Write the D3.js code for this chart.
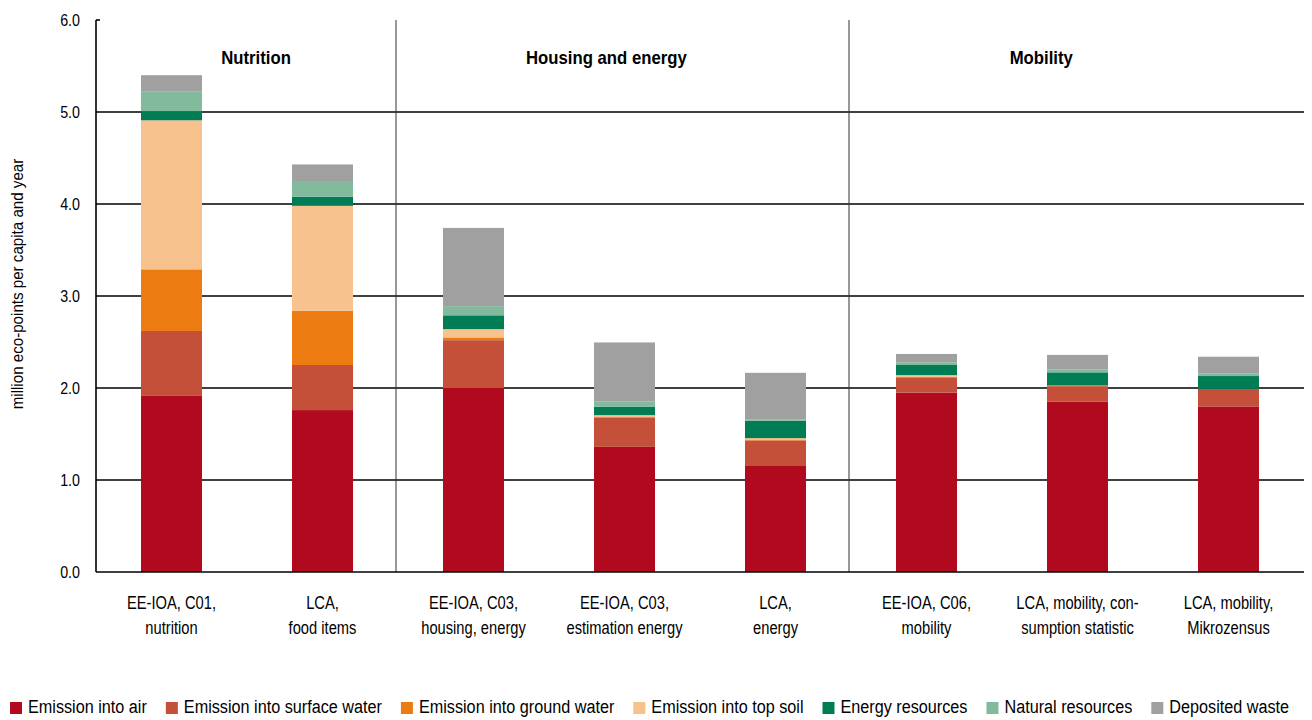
<!DOCTYPE html>
<html>
<head>
<meta charset="utf-8">
<script src="https://cdn.jsdelivr.net/npm/d3@7"></script>
<style>
  body { margin: 0; background: #fff; }
  svg text { font-family: "Liberation Sans", Arial, sans-serif; fill: #000; }
</style>
</head>
<body>
<div id="chart"></div>
<script>
const width = 1312;
const height = 720;

// categories (two label lines each)
const categories = [
  ["EE-IOA, C01,", "nutrition"],
  ["LCA,", "food items"],
  ["EE-IOA, C03,", "housing, energy"],
  ["EE-IOA, C03,", "estimation energy"],
  ["LCA,", "energy"],
  ["EE-IOA, C06,", "mobility"],
  ["LCA, mobility, con-", "sumption statistic"],
  ["LCA, mobility,", "Mikrozensus"]
];

const seriesNames = ["Emission into air", "Emission into surface water", "Emission into ground water",
  "Emission into top soil", "Energy resources", "Natural resources", "Deposited waste"];
const colors = ["#b1091e", "#c4503a", "#ec7c12", "#f7c28e", "#007d55", "#82ba9e", "#a0a0a0"];

// million eco-points per capita and year
const air          = [1.92, 1.76, 2.00, 1.36, 1.16, 1.95, 1.85, 1.80];
const surfaceWater = [0.70, 0.49, 0.52, 0.32, 0.27, 0.16, 0.17, 0.19];
const groundWater  = [0.67, 0.59, 0.03, 0.005, 0.005, 0.01, 0.01, 0.0];
const topSoil      = [1.62, 1.14, 0.09, 0.02, 0.02, 0.02, 0.0, 0.0];
const energy       = [0.10, 0.10, 0.15, 0.09, 0.19, 0.11, 0.14, 0.14];
const natural      = [0.21, 0.17, 0.10, 0.06, 0.01, 0.03, 0.03, 0.03];
const waste        = [0.18, 0.18, 0.85, 0.64, 0.51, 0.09, 0.16, 0.18];

const yTicks = [0, 1, 2, 3, 4, 5, 6];

// group headings and separators (positions in category-index units)
const groups = [
  {name: "Nutrition", pos: 1.06},
  {name: "Housing and energy", pos: 3.38},
  {name: "Mobility", pos: 6.26}
];
const separators = [2, 5];

const allSeries = [air, surfaceWater, groundWater, topSoil, energy, natural, waste];
const table = categories.map((c, i) => {
  const row = {idx: i};
  seriesNames.forEach((s, j) => row[s] = allSeries[j][i]);
  return row;
});

const margin = {top: 20, right: 8, bottom: 148, left: 96};

const svg = d3.select("#chart").append("svg")
  .attr("width", width).attr("height", height);

// squeeze Arial-metric text to look like Arial Narrow
function narrow(sel, k) {
  sel.each(function() {
    const len = this.getComputedTextLength();
    d3.select(this).attr("textLength", len * k).attr("lengthAdjust", "spacingAndGlyphs");
  });
}

const x = d3.scaleBand()
  .domain(d3.range(categories.length))
  .range([margin.left, width - margin.right])
  .paddingInner(0.596)
  .paddingOuter(0.298);

const y = d3.scaleLinear()
  .domain([0, 6])
  .range([height - margin.bottom, margin.top]);

const step = x.step();
const x0 = margin.left;

// gridlines
svg.append("g")
  .selectAll("line")
  .data(yTicks.filter(d => d > 0 && d < 6))
  .join("line")
  .attr("x1", margin.left).attr("x2", width - margin.right)
  .attr("y1", d => y(d)).attr("y2", d => y(d))
  .attr("stroke", "#000").attr("stroke-width", 1.6);

// group separators
svg.append("g")
  .selectAll("line")
  .data(separators)
  .join("line")
  .attr("x1", d => x0 + d * step - 2).attr("x2", d => x0 + d * step - 2)
  .attr("y1", y(6)).attr("y2", y(0))
  .attr("stroke", "#333").attr("stroke-width", 1);

// bars
const stack = d3.stack().keys(seriesNames)(table);
svg.append("g")
  .selectAll("g")
  .data(stack)
  .join("g")
  .attr("fill", (d, i) => colors[i])
  .selectAll("rect")
  .data(d => d)
  .join("rect")
  .attr("x", d => x(d.data.idx))
  .attr("width", x.bandwidth())
  .attr("y", d => y(d[1]))
  .attr("height", d => y(d[0]) - y(d[1]));

// axes
svg.append("line")
  .attr("x1", margin.left).attr("x2", margin.left)
  .attr("y1", y(6)).attr("y2", y(0))
  .attr("stroke", "#000").attr("stroke-width", 1.6);
svg.append("line")
  .attr("x1", margin.left).attr("x2", width - margin.right)
  .attr("y1", y(0)).attr("y2", y(0))
  .attr("stroke", "#000").attr("stroke-width", 1.6);
svg.append("line")
  .attr("x1", margin.left).attr("x2", margin.left + 4)
  .attr("y1", y(6)).attr("y2", y(6))
  .attr("stroke", "#000").attr("stroke-width", 1.6);

// y tick labels
svg.append("g")
  .selectAll("text")
  .data(yTicks)
  .join("text")
  .attr("x", 80)
  .attr("y", d => y(d))
  .attr("dy", "0.35em")
  .attr("text-anchor", "end")
  .attr("font-size", 17)
  .text(d => d3.format(".1f")(d))
  .call(narrow, 0.84);

// y title
svg.append("text")
  .attr("transform", `translate(23,${(y(0) + y(6)) / 2 - 12}) rotate(-90)`)
  .attr("text-anchor", "middle")
  .attr("font-size", 17)
  .text("million eco-points per capita and year")
  .call(narrow, 0.89);

// x labels
const xl = svg.append("g")
  .selectAll("text")
  .data(categories)
  .join("text")
  .attr("text-anchor", "middle")
  .attr("font-size", 17.5)
  .attr("transform", (d, i) => `translate(${x(i) + x.bandwidth() / 2},0)`);
xl.append("tspan").attr("x", 0).attr("y", 609).text(d => d[0]).call(narrow, 0.84);
xl.append("tspan").attr("x", 0).attr("y", 634).text(d => d[1]).call(narrow, 0.84);

// group headings
svg.append("g")
  .selectAll("text")
  .data(groups)
  .join("text")
  .attr("x", d => x0 + d.pos * step)
  .attr("y", 64)
  .attr("text-anchor", "middle")
  .attr("font-size", 19)
  .attr("font-weight", "bold")
  .text(d => d.name)
  .call(narrow, 0.88);

// legend
const legend = svg.append("g").attr("transform", "translate(10,707)");
let lx = 0;
seriesNames.forEach((name, i) => {
  const g = legend.append("g").attr("transform", `translate(${lx},0)`);
  g.append("rect").attr("x", 0).attr("y", -5).attr("width", 12).attr("height", 12).attr("fill", colors[i]);
  const t = g.append("text").attr("x", 18).attr("y", 0).attr("dy", "0.35em")
    .attr("font-size", 18).text(name).call(narrow, 0.9);
  lx += 18 + t.node().getComputedTextLength() + 19;
});
</script>
</body>
</html>
